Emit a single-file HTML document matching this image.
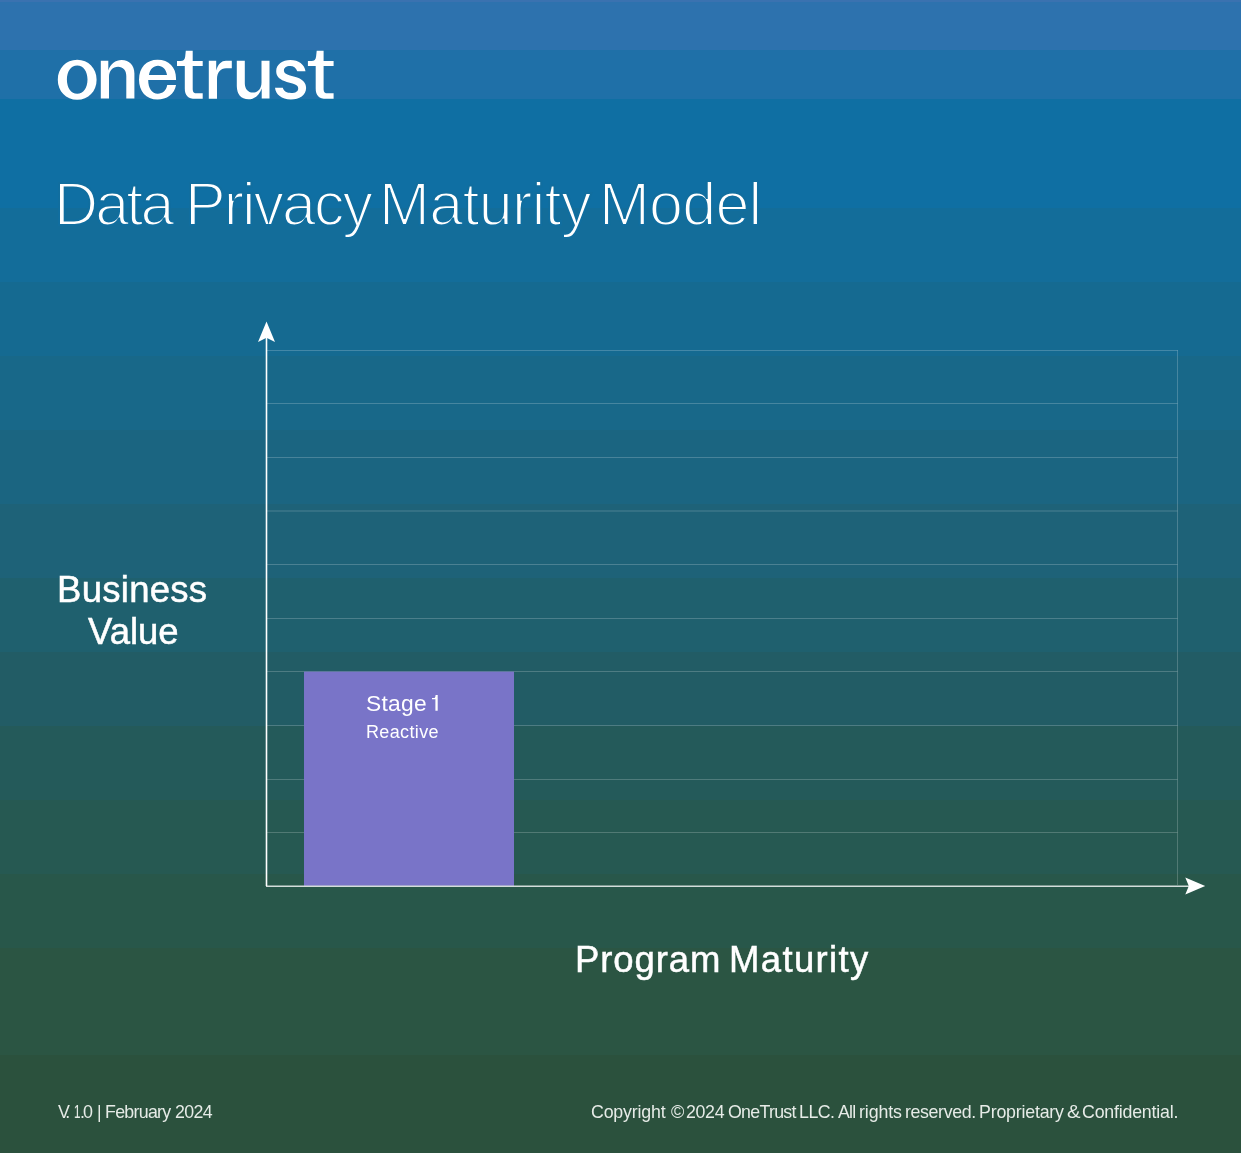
<!DOCTYPE html>
<html><head><meta charset="utf-8">
<style>
html,body{margin:0;padding:0;}
body{width:1241px;height:1153px;position:relative;overflow:hidden;font-family:"Liberation Sans",sans-serif;color:#fff;}
.bg{position:absolute;left:0;width:1241px;}
.t{position:absolute;white-space:nowrap;line-height:1;will-change:transform;}
</style></head><body>

<div class="bg" style="top:0px;height:2px;background:#3A72B0"></div>
<div class="bg" style="top:2px;height:48px;background:#2D72AE"></div>
<div class="bg" style="top:50px;height:49px;background:#1F70A8"></div>
<div class="bg" style="top:99px;height:109px;background:#0F6FA3"></div>
<div class="bg" style="top:208px;height:74px;background:#136D9A"></div>
<div class="bg" style="top:282px;height:74px;background:#156A91"></div>
<div class="bg" style="top:356px;height:74px;background:#186889"></div>
<div class="bg" style="top:430px;height:74px;background:#1B6581"></div>
<div class="bg" style="top:504px;height:74px;background:#1E6278"></div>
<div class="bg" style="top:578px;height:74px;background:#1F606E"></div>
<div class="bg" style="top:652px;height:74px;background:#225C65"></div>
<div class="bg" style="top:726px;height:74px;background:#245A5A"></div>
<div class="bg" style="top:800px;height:74px;background:#265952"></div>
<div class="bg" style="top:874px;height:74px;background:#28574A"></div>
<div class="bg" style="top:948px;height:107px;background:#2B5543"></div>
<div class="bg" style="top:1055px;height:98px;background:#2B513D"></div>
<svg width="1241" height="130" style="position:absolute;left:0;top:0" fill="#fff" fill-rule="evenodd">
<path d="M57.8 79.75 C57.8 68.2 66 59.7 77.2 59.7 C88.4 59.7 96.6 68.2 96.6 79.75 C96.6 91.3 88.4 99.8 77.2 99.8 C66 99.8 57.8 91.3 57.8 79.75 Z M66.9 79.6 C66.9 87.9 71 93.8 77.2 93.8 C83.4 93.8 87.5 87.9 87.5 79.6 C87.5 71.3 83.4 65.4 77.2 65.4 C71 65.4 66.9 71.3 66.9 79.6 Z"/>
<path d="M100.8 60.7 L108.3 60.7 L108.3 70.5 C110.5 64 115.5 60.1 121.6 60.1 C129.5 60.1 134.4 65.5 134.4 73.5 L134.4 98.6 L126.3 98.6 L126.3 76 C126.3 70.3 123 66.8 118.1 66.8 C112.8 66.8 109 70.8 109 77 L109 98.6 L100.8 98.6 Z"/>
<path d="M176.05 80 L148.2 80 C148.2 88.5 152 93.7 157.8 93.7 C162.5 93.7 166.3 90.5 167.2 85 L176.05 85 C174.5 94.5 166.5 99.5 157.5 99.5 C146 99.5 139 91 139 79.7 C139 67.5 146.5 59.85 157.5 59.85 C169 59.85 176.05 67.5 176.05 78.5 Z M149 75 L167 75 C166.3 69.3 162.5 65.7 158 65.7 C153.5 65.7 149.7 69.3 149 75 Z"/>
<path id="tt" d="M185.8 50.8 L192.7 50.8 L192.7 61.1 L202.7 61.1 L202.7 66.1 L192.7 66.1 L192.7 89.2 C192.7 92.2 194 93.3 197 93.3 L202.7 93.3 L202.7 98.8 L195.5 98.8 C188 98.8 184.8 95.5 184.8 88.5 L184.8 66.1 L177 66.1 L177 61.1 L180.5 61.1 C183.5 61.1 184.9 59.5 185.2 56.5 Z"/>
<path d="M208.8 60.7 L216.2 60.7 L216.2 70.5 C218 64 221.5 60.7 226 60.7 L231.8 60.7 L231.8 68.3 L226 68.3 C220.5 68.3 217 72.5 217 79 L217 98.7 L208.8 98.7 Z"/>
<path d="M236.8 60.7 L244.8 60.7 L244.8 83.3 C244.8 89 248 92.6 252.8 92.6 C258 92.6 261.5 88.6 261.5 82.5 L261.5 60.7 L269.5 60.7 L269.5 98.6 L261.7 98.6 L261.7 88.5 C259.5 95 254.5 99.3 248.5 99.3 C241 99.3 236.8 94 236.8 86 Z"/>
<path d="M305.5 71.3 L297.3 71.3 C296 67.8 293.5 66.1 290.2 66.1 C286 66.1 283.9 68.2 283.9 70.5 C283.9 73 286 74.3 290 75.5 L295.5 77 C302.5 79 306.1 82.5 306.1 88 C306.1 95 299.5 99.5 290.8 99.5 C281.5 99.5 275.8 94.5 275 87.8 L282.8 87.8 C283.8 91.3 286.8 93 291.2 93 C295.6 93 298.2 91.2 298.2 88.4 C298.2 85.8 296.5 84.5 292.5 83.4 L286.8 81.9 C280 80 276.2 76.8 276.2 71.3 C276.2 64.5 282.5 60.1 290.4 60.1 C298.5 60.1 304.5 64.5 305.5 71.3 Z"/>
<use href="#tt" transform="translate(130.9 0)"/>
</svg>
<div class="t" style="left:53.80px;top:173.95px;font-size:61px;font-weight:normal;letter-spacing:-2.833px;color:#fff;-webkit-text-stroke:2px #116E9F;">Data</div>
<div class="t" style="left:184.60px;top:173.95px;font-size:61px;font-weight:normal;letter-spacing:-2.000px;color:#fff;-webkit-text-stroke:2px #116E9F;">Privacy</div>
<div class="t" style="left:379.00px;top:173.95px;font-size:61px;font-weight:normal;letter-spacing:-0.643px;color:#fff;-webkit-text-stroke:2px #116E9F;">Maturity</div>
<div class="t" style="left:598.80px;top:173.95px;font-size:61px;font-weight:normal;letter-spacing:-0.750px;color:#fff;-webkit-text-stroke:2px #116E9F;">Model</div>
<svg width="1241" height="1153" style="position:absolute;left:0;top:0">
  <g stroke="rgba(255,255,255,0.2)" stroke-width="1" fill="none"><line x1="267" y1="350.5" x2="1177.5" y2="350.5"/><line x1="267" y1="403.5" x2="1177.5" y2="403.5"/><line x1="267" y1="457.5" x2="1177.5" y2="457.5"/><line x1="267" y1="511.0" x2="1177.5" y2="511.0"/><line x1="267" y1="564.5" x2="1177.5" y2="564.5"/><line x1="267" y1="618.5" x2="1177.5" y2="618.5"/><line x1="267" y1="671.5" x2="1177.5" y2="671.5"/><line x1="267" y1="725.5" x2="1177.5" y2="725.5"/><line x1="267" y1="779.5" x2="1177.5" y2="779.5"/><line x1="267" y1="832.5" x2="1177.5" y2="832.5"/>
    <line x1="1177.5" y1="350" x2="1177.5" y2="885"/>
  </g>
  <rect x="304" y="671.6" width="210" height="214.2" fill="#7974C8"/>
  <line x1="266.5" y1="335" x2="266.5" y2="886" stroke="#fff" stroke-width="1.6"/>
  <line x1="266" y1="886.3" x2="1192" y2="886.3" stroke="rgba(255,255,255,0.8)" stroke-width="1.6"/>
  <path d="M266.5 321.5 L275 342 L266.5 337.7 L258 342 Z" fill="#fff"/>
  <path d="M1205.2 886 L1185.3 877.4 L1188.8 886 L1185.3 894.5 Z" fill="#fff"/>
  <path d="M435.6 695.1 L437.7 695.1 L437.7 710.8 L435.4 710.8 L435.4 699.3 L432.0 699.3 L432.0 698.0 L434.6 698.0 C435.2 697.6 435.5 696.5 435.6 695.1 Z" fill="#fff"/>
</svg>
<div class="t" style="left:365.80px;top:691.90px;font-size:22.8px;font-weight:normal;letter-spacing:0.250px;color:#fff;">Stage</div>
<div class="t" style="left:366.20px;top:723.06px;font-size:18px;font-weight:normal;letter-spacing:0.357px;color:#fff;">Reactive</div>
<div class="t" style="left:57.20px;top:571.70px;font-size:36.5px;font-weight:normal;letter-spacing:0.286px;color:#fff;-webkit-text-stroke:0.5px #fff;">Business</div>
<div class="t" style="left:88.20px;top:613.50px;font-size:36.5px;font-weight:normal;letter-spacing:0.000px;color:#fff;-webkit-text-stroke:0.5px #fff;">Value</div>
<div class="t" style="left:574.60px;top:941.70px;font-size:36.5px;font-weight:normal;letter-spacing:0.917px;color:#fff;-webkit-text-stroke:0.5px #fff;">Program</div>
<div class="t" style="left:728.80px;top:941.70px;font-size:36.5px;font-weight:normal;letter-spacing:1.357px;color:#fff;-webkit-text-stroke:0.5px #fff;">Maturity</div>
<div class="t" style="left:58.00px;top:1104.13px;font-size:17.8px;font-weight:normal;letter-spacing:-3.000px;color:#E6EBE7;">V.</div>
<div class="t" style="left:74.20px;top:1104.13px;font-size:17.8px;font-weight:normal;letter-spacing:0.000px;color:#E6EBE7;transform:scaleX(0.6381);transform-origin:0 0;">1</div>
<div class="t" style="left:79.60px;top:1104.13px;font-size:17.8px;font-weight:normal;letter-spacing:0.000px;color:#E6EBE7;">.</div>
<div class="t" style="left:83.40px;top:1104.13px;font-size:17.8px;font-weight:normal;letter-spacing:0.000px;color:#E6EBE7;transform:scaleX(1.0083);transform-origin:0 0;">0</div>
<div class="t" style="left:96.80px;top:1104.13px;font-size:17.8px;font-weight:normal;letter-spacing:0.000px;color:#E6EBE7;">|</div>
<div class="t" style="left:105.40px;top:1104.13px;font-size:17.8px;font-weight:normal;letter-spacing:-0.714px;color:#E6EBE7;">February</div>
<div class="t" style="left:175.20px;top:1104.13px;font-size:17.8px;font-weight:normal;letter-spacing:-0.667px;color:#E6EBE7;">2024</div>
<div class="t" style="left:590.80px;top:1104.13px;font-size:17.8px;font-weight:normal;letter-spacing:-0.187px;color:#E6EBE7;">Copyright</div>
<div class="t" style="left:670.80px;top:1104.13px;font-size:17.8px;font-weight:normal;letter-spacing:0.000px;color:#E6EBE7;transform:scaleX(1.0155);transform-origin:0 0;">©</div>
<div class="t" style="left:686.20px;top:1104.13px;font-size:17.8px;font-weight:normal;letter-spacing:-0.333px;color:#E6EBE7;">2024</div>
<div class="t" style="left:727.80px;top:1104.13px;font-size:17.8px;font-weight:normal;letter-spacing:-0.714px;color:#E6EBE7;">OneTrust</div>
<div class="t" style="left:799.40px;top:1104.13px;font-size:17.8px;font-weight:normal;letter-spacing:-0.500px;color:#E6EBE7;">LLC.</div>
<div class="t" style="left:838.00px;top:1104.13px;font-size:17.8px;font-weight:normal;letter-spacing:-0.750px;color:#E6EBE7;">All</div>
<div class="t" style="left:858.80px;top:1104.13px;font-size:17.8px;font-weight:normal;letter-spacing:-0.100px;color:#E6EBE7;">rights</div>
<div class="t" style="left:905.20px;top:1104.13px;font-size:17.8px;font-weight:normal;letter-spacing:-0.375px;color:#E6EBE7;">reserved.</div>
<div class="t" style="left:979.00px;top:1104.13px;font-size:17.8px;font-weight:normal;letter-spacing:-0.200px;color:#E6EBE7;">Proprietary</div>
<div class="t" style="left:1066.80px;top:1104.13px;font-size:17.8px;font-weight:normal;letter-spacing:0.000px;color:#E6EBE7;transform:scaleX(1.1413);transform-origin:0 0;">&amp;</div>
<div class="t" style="left:1082.20px;top:1104.13px;font-size:17.8px;font-weight:normal;letter-spacing:-0.208px;color:#E6EBE7;">Confidential.</div>
</body></html>
